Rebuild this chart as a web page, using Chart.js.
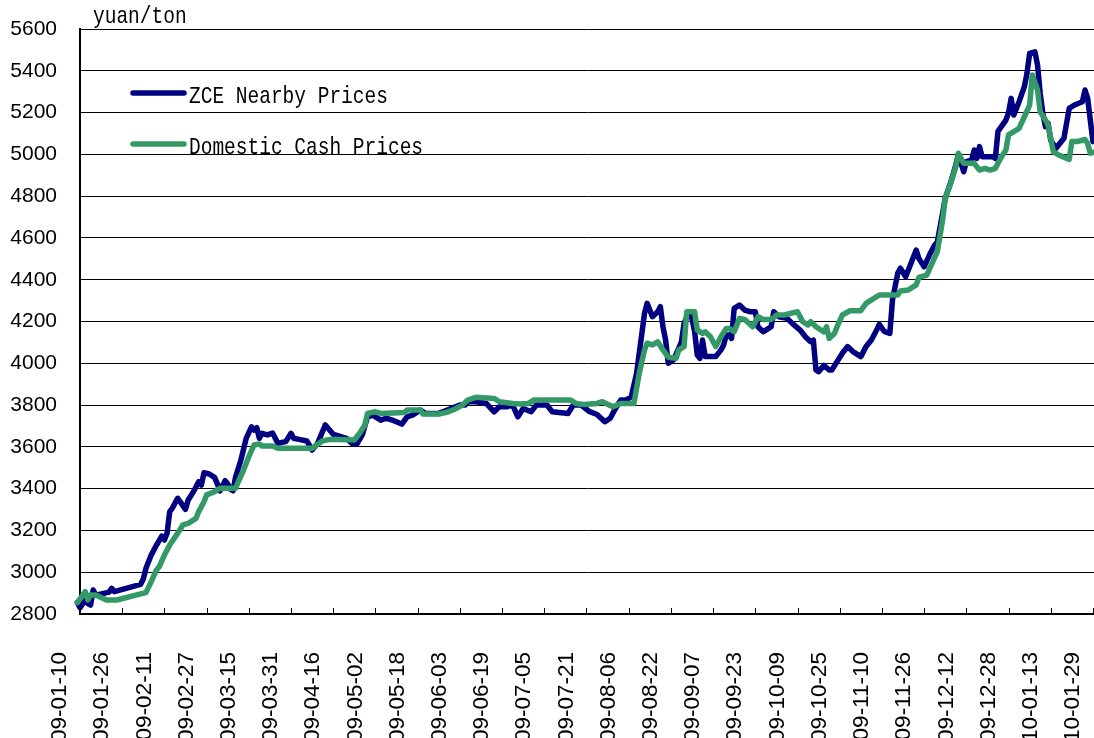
<!DOCTYPE html>
<html>
<head>
<meta charset="utf-8">
<title>ZCE nearby vs domestic cash prices</title>
<script src="https://cdn.jsdelivr.net/npm/chart.js@4.4.1/dist/chart.umd.min.js"></script>
<style>
  html, body { margin: 0; padding: 0; background: #fff; }
  canvas { display: block; }
</style>
</head>
<body>
<canvas id="price-chart" width="1094" height="738"></canvas>
<script>
// x values are days counted from 2009-01-10
const zceDays = [
  -1, 0, 2, 3, 4, 5, 6, 9, 11, 12, 13, 23, 24, 25, 27, 29, 31, 32, 33, 34,
  35, 37, 38, 40, 41, 43, 45, 46, 47, 49, 51, 52, 53, 55, 56, 57, 58, 59, 61, 63,
  65, 66, 67, 68, 69, 71, 73, 75, 78, 80, 81, 83, 86, 88, 90, 93, 96, 98, 101, 103,
  105, 107, 109, 111, 114, 116, 119, 122, 124, 126, 129, 131, 136, 140, 144, 146, 147, 150, 154, 157,
  159, 162, 164, 166, 168, 171, 173, 177, 179, 185, 187, 190, 193, 196, 199, 201, 203, 205, 207, 209,
  211, 213, 214, 215, 217, 219, 220, 221, 222, 223, 225, 227, 228, 229, 231, 232, 233, 234, 235, 236,
  237, 241, 243, 244, 245, 246, 247, 248, 250, 252, 254, 256, 257, 259, 260, 262, 263, 265, 268, 270,
  273, 275, 277, 278, 279, 280, 282, 284, 285, 287, 289, 291, 293, 296, 298, 300, 302, 303, 305, 307,
  308, 310, 311, 313, 315, 317, 318, 320, 322, 324, 325, 327, 328, 330, 332, 333, 335, 336, 338, 339,
  340, 341, 342, 346, 347, 348, 351, 352, 353, 354, 356, 358, 359, 360, 362, 363, 364, 365, 366, 367,
  368, 370, 373, 375, 377, 380, 381, 382, 383, 384
];
const zcePrices = [
  2855, 2830, 2867, 2850, 2843, 2915, 2890, 2899, 2905, 2923, 2907, 2942, 2967, 3019, 3082, 3130, 3173, 3154, 3186, 3290,
  3306, 3354, 3337, 3301, 3346, 3385, 3433, 3417, 3476, 3470, 3454, 3425, 3389, 3438, 3422, 3398, 3390, 3457, 3537, 3641,
  3696, 3680, 3692, 3641, 3665, 3657, 3666, 3617, 3625, 3665, 3641, 3636, 3628, 3585, 3615, 3705, 3660, 3652, 3641, 3617,
  3614, 3657, 3744, 3752, 3728, 3737, 3725, 3709, 3744, 3752, 3776, 3760, 3760, 3780, 3800, 3800, 3816, 3816, 3808, 3768,
  3792, 3792, 3800, 3744, 3784, 3768, 3800, 3800, 3768, 3760, 3800, 3800, 3770, 3755, 3720, 3737, 3784, 3824, 3824, 3840,
  3952, 4143, 4239, 4287, 4223, 4247, 4271, 4175, 4111, 4000, 4016, 4072, 4103, 4191, 4247, 4215, 4151, 4040, 4024, 4111,
  4032, 4032, 4064, 4088, 4135, 4135, 4119, 4263, 4279, 4255, 4247, 4247, 4175, 4151, 4159, 4175, 4247, 4223, 4215, 4191,
  4159, 4127, 4103, 4111, 3968, 3960, 3990, 3968, 3968, 4008, 4048, 4080, 4056, 4032, 4080, 4111, 4159, 4186, 4151, 4143,
  4303, 4431, 4455, 4414, 4478, 4542, 4502, 4462, 4518, 4566, 4580, 4718, 4790, 4862, 4949, 5000, 4917, 4965, 4973, 5021,
  4981, 5037, 4989, 4989, 4981, 5110, 5164, 5199, 5268, 5188, 5252, 5324, 5388, 5483, 5491, 5428, 5292, 5196, 5132, 5148,
  5068, 5029, 5077, 5220, 5236, 5252, 5308, 5268, 5164, 5061
];

const cashDays = [
  -1, 2, 3, 4, 6, 10, 14, 23, 25, 27, 29, 30, 32, 34, 37, 39, 41, 44, 45, 47,
  48, 51, 53, 59, 60, 62, 64, 66, 68, 69, 73, 75, 88, 92, 95, 104, 106, 108, 109, 112,
  114, 123, 124, 129, 130, 136, 139, 142, 145, 147, 150, 157, 159, 164, 167, 170, 172, 186, 188, 191,
  196, 198, 202, 205, 210, 212, 214, 215, 217, 219, 221, 223, 226, 227, 229, 230, 233, 234, 236, 237,
  239, 241, 243, 245, 246, 248, 250, 252, 255, 257, 259, 262, 264, 267, 272, 274, 276, 277, 279, 282,
  283, 284, 286, 287, 289, 292, 296, 298, 299, 303, 310, 311, 314, 317, 318, 321, 323, 325, 327, 328,
  330, 332, 333, 335, 339, 341, 343, 345, 347, 349, 351, 352, 354, 356, 358, 360, 361, 363, 364, 366,
  367, 369, 371, 375, 376, 378, 381, 382, 383, 384
];
const cashPrices = [
  2854, 2907, 2867, 2891, 2891, 2867, 2867, 2896, 2902, 2955, 3011, 3026, 3082, 3130, 3186, 3226, 3234, 3258, 3290, 3337,
  3370, 3385, 3402, 3402, 3433, 3489, 3553, 3609, 3614, 3604, 3604, 3593, 3593, 3629, 3636, 3633, 3665, 3705, 3760, 3768,
  3760, 3765, 3776, 3776, 3757, 3757, 3765, 3780, 3800, 3824, 3837, 3832, 3816, 3808, 3805, 3808, 3824, 3824, 3808, 3803,
  3808, 3816, 3792, 3808, 3808, 3952, 4064, 4096, 4088, 4103, 4064, 4029, 4024, 4064, 4080, 4247, 4247, 4159, 4143, 4151,
  4127, 4080, 4127, 4167, 4167, 4151, 4215, 4210, 4175, 4223, 4210, 4210, 4231, 4231, 4247, 4199, 4183, 4199, 4175, 4150,
  4175, 4119, 4143, 4175, 4231, 4252, 4252, 4287, 4295, 4327, 4327, 4346, 4351, 4375, 4411, 4422, 4478, 4534, 4686, 4790,
  4860, 4940, 5005, 4957, 4957, 4925, 4933, 4925, 4933, 4981, 5021, 5093, 5109, 5124, 5180, 5236, 5380, 5308, 5204, 5164,
  5140, 5013, 4997, 4976, 5061, 5061, 5071, 5052, 5005, 5010
];

const xTickLabels = [
  '09-01-10', '09-01-26', '09-02-11', '09-02-27', '09-03-15', '09-03-31', '09-04-16', '09-05-02',
  '09-05-18', '09-06-03', '09-06-19', '09-07-05', '09-07-21', '09-08-06', '09-08-22', '09-09-07',
  '09-09-23', '09-10-09', '09-10-25', '09-11-10', '09-11-26', '09-12-12', '09-12-28', '10-01-13', '10-01-29'
];
const yTicks = [2800, 3000, 3200, 3400, 3600, 3800, 4000, 4200, 4400, 4600, 4800, 5000, 5200, 5400, 5600];
const seriesNames = ['ZCE Nearby Prices', 'Domestic Cash Prices'];
const unitLabel = 'yuan/ton';

// day offset of each tick label
const baseDay = Date.UTC(2009, 0, 10);
const xTickDays = xTickLabels.map(s => {
    const [yy, mm, dd] = s.split('-').map(Number);
    return Math.round((Date.UTC(2000 + yy, mm - 1, dd) - baseDay) / 86400000);
});
const labelByDay = {};
xTickDays.forEach((d, i) => { labelByDay[d] = xTickLabels[i]; });

const toPoints = (days, vals) => days.map((d, i) => ({ x: d, y: vals[i] }));

const NAVY = '#000080';
const SEA_GREEN = '#339966';
const FONT_FAMILY = "'Liberation Sans', Arial, sans-serif";

// SimSun-like narrow serif text (the original used a CJK font for Latin text)
function drawNarrowText(ctx, text, x, y) {
    ctx.save();
    ctx.translate(x, y);
    ctx.scale(0.8125, 1);
    ctx.font = "24px 'Liberation Mono', monospace";
    ctx.fillStyle = '#000';
    ctx.textAlign = 'left';
    ctx.textBaseline = 'alphabetic';
    ctx.fillText(text, 0, 0);
    ctx.restore();
}

const extrasPlugin = {
    id: 'extras',
    afterDatasetsDraw(chart) {
        // tick marks on the inside of the date axis
        const ctx = chart.ctx;
        const xs = chart.scales.x;
        const bottom = chart.chartArea.bottom;
        ctx.save();
        ctx.strokeStyle = '#000';
        ctx.lineWidth = 1;
        xs.ticks.forEach(t => {
            const px = Math.round(xs.getPixelForValue(t.value)) + 0.5;
            ctx.beginPath();
            ctx.moveTo(px, bottom);
            ctx.lineTo(px, bottom - 6);
            ctx.stroke();
        });
        ctx.restore();
    },
    afterDraw(chart) {
        const ctx = chart.ctx;
        drawNarrowText(ctx, unitLabel, 93, 23);

        // legend inside the plot, upper left
        const rows = [93, 144];
        chart.data.datasets.forEach((ds, i) => {
            const y = rows[i];
            ctx.save();
            ctx.strokeStyle = ds.borderColor;
            ctx.lineWidth = 5.5;
            ctx.lineCap = 'round';
            ctx.beginPath();
            ctx.moveTo(133, y);
            ctx.lineTo(184, y);
            ctx.stroke();
            ctx.restore();
            drawNarrowText(ctx, ds.label, 189, y + 10);
        });
    }
};

const lineStyle = {
    borderWidth: 5.5,
    pointRadius: 0,
    pointHoverRadius: 0,
    tension: 0,
    fill: false,
    borderJoinStyle: 'round',
    borderCapStyle: 'round',
    clip: false,
};

new Chart(document.getElementById('price-chart'), {
    type: 'line',
    data: {
        datasets: [
            Object.assign({
                label: seriesNames[0],
                data: toPoints(zceDays, zcePrices),
                borderColor: NAVY,
                backgroundColor: NAVY,
                order: 1,
            }, lineStyle),
            Object.assign({
                label: seriesNames[1],
                data: toPoints(cashDays, cashPrices),
                borderColor: SEA_GREEN,
                backgroundColor: SEA_GREEN,
                order: 0,
            }, lineStyle)
        ]
    },
    options: {
        responsive: false,
        animation: false,
        devicePixelRatio: 1,
        layout: { padding: { top: 29, left: 0, right: 0, bottom: 0 } },
        plugins: {
            legend: { display: false },
            tooltip: { enabled: false },
            title: { display: false }
        },
        scales: {
            x: {
                type: 'linear',
                min: 0,
                max: 384.4,
                afterBuildTicks(scale) {
                    scale.ticks = xTickDays.map(v => ({ value: v }));
                },
                afterFit(scale) {
                    scale.height = 124;
                    scale.paddingLeft = 0;
                    scale.paddingRight = 0;
                },
                grid: { drawOnChartArea: false, drawTicks: false },
                border: { display: true, color: '#000', width: 2 },
                ticks: {
                    autoSkip: false,
                    minRotation: 90,
                    maxRotation: 90,
                    padding: 38,
                    labelOffset: -20,
                    color: '#000',
                    font: { family: FONT_FAMILY, size: 22.5 },
                    callback: v => labelByDay[v] || ''
                }
            },
            y: {
                min: yTicks[0],
                max: yTicks[yTicks.length - 1],
                afterBuildTicks(scale) {
                    scale.ticks = yTicks.map(v => ({ value: v }));
                },
                afterFit(scale) {
                    scale.width = 80;
                    scale.paddingTop = 0;
                    scale.paddingBottom = 0;
                },
                grid: { color: '#000', lineWidth: 1, drawTicks: false },
                border: { display: true, color: '#000', width: 2 },
                ticks: {
                    padding: 23,
                    color: '#000',
                    font: { family: FONT_FAMILY, size: 21 },
                    callback: v => String(v)
                }
            }
        }
    },
    plugins: [extrasPlugin]
});
</script>
</body>
</html>
